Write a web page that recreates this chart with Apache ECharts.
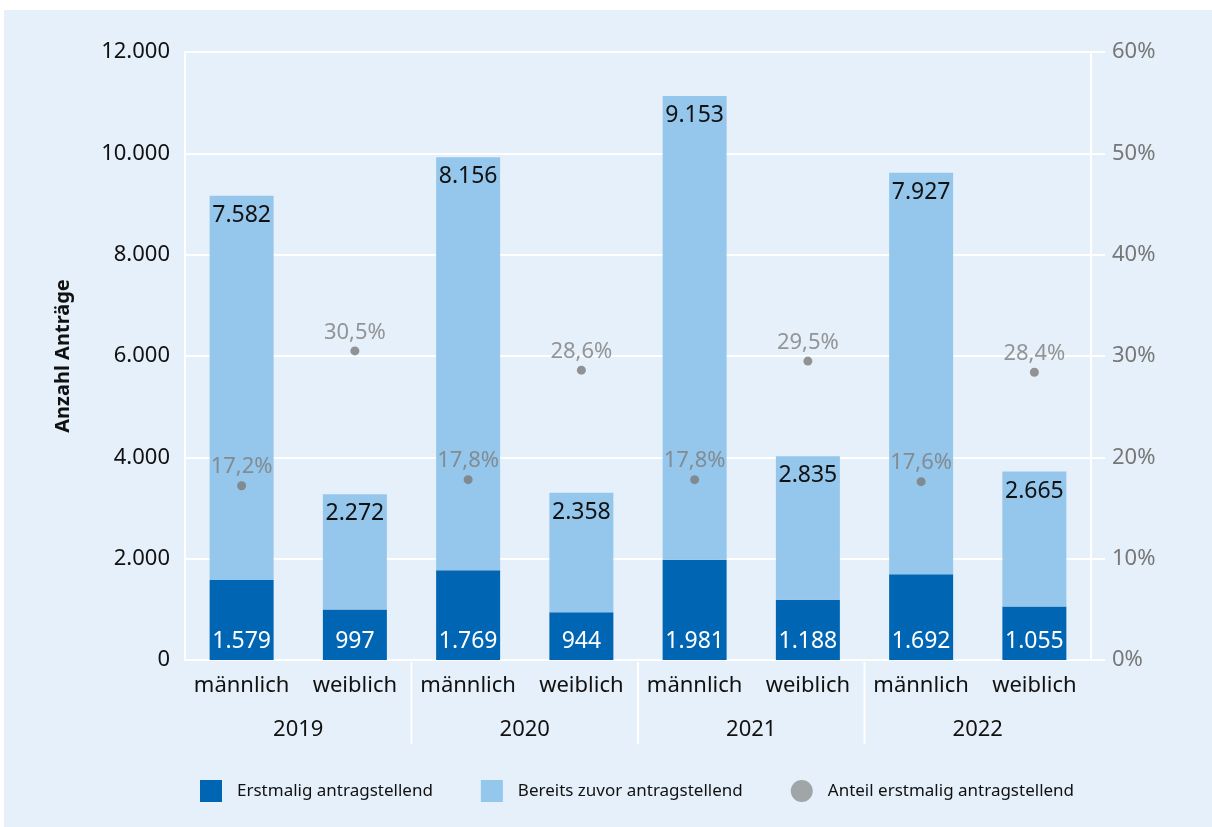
<!DOCTYPE html>
<html>
<head>
<meta charset="utf-8">
<script src="https://cdn.jsdelivr.net/npm/echarts@6/dist/echarts.min.js"></script>
<style>
html,body{margin:0;padding:0;background:#ffffff;}
#chart{position:absolute;left:4px;top:10px;width:1208px;height:817px;background:#e6f0fa;}
</style>
</head>
<body>
<div id="chart"></div>
<script>
const years = ['2019', '2020', '2021', '2022'];
const sexes = ['männlich', 'weiblich', 'männlich', 'weiblich', 'männlich', 'weiblich', 'männlich', 'weiblich'];
const firstTime = [1579, 997, 1769, 944, 1981, 1188, 1692, 1055];
const previously = [7582, 2272, 8156, 2358, 9153, 2835, 7927, 2665];
const shareFirst = [17.2, 30.5, 17.8, 28.6, 17.8, 29.5, 17.6, 28.4];
const leftTicks = { min: 0, max: 12000, interval: 2000 };
const rightTicks = { min: 0, max: 60, interval: 10 };
const seriesNames = ['Erstmalig antragstellend', 'Bereits zuvor antragstellend', 'Anteil erstmalig antragstellend'];

const FONT = 'Noto Sans';
const fmtThousands = v => String(v).replace(/\B(?=(\d{3})+(?!\d))/g, '.');
const groupSize = sexes.length / years.length;
const separators = [];
for (let i = 1; i < years.length; i++) separators.push([i * groupSize, 0]);

const chart = echarts.init(document.getElementById('chart'));
chart.setOption({
  animation: false,
  textStyle: { fontFamily: FONT },
  grid: { left: 181, right: 121, top: 42, bottom: 167 },
  legend: {
    left: 191, top: 765,
    itemWidth: 22, itemHeight: 22, itemGap: 48,
    textStyle: { fontFamily: FONT, fontSize: 17, color: '#111', padding: [0, 0, 0, 10] },
    data: [
      { name: seriesNames[0], icon: 'rect' },
      { name: seriesNames[1], icon: 'rect' },
      { name: seriesNames[2], icon: 'circle', itemStyle: { color: '#8e9294' } }
    ]
  },
  xAxis: [
    {
      type: 'category', data: sexes, position: 'bottom',
      axisLine: { show: true, lineStyle: { color: '#ffffff', width: 2 } },
      axisTick: { show: false },
      axisLabel: { interval: 0, color: '#111', fontSize: 22, margin: 15, fontFamily: FONT }
    },
    {
      type: 'category', data: years, position: 'bottom', offset: 0,
      axisLine: { show: false }, axisTick: { show: false },
      axisLabel: { interval: 0, color: '#111', fontSize: 22, margin: 59, fontFamily: FONT }
    }
  ],
  yAxis: [
    {
      type: 'value', min: leftTicks.min, max: leftTicks.max, interval: leftTicks.interval,
      name: 'Anzahl Anträge', nameLocation: 'middle', nameGap: 112, nameRotate: 90,
      nameTextStyle: { fontWeight: 'bold', fontSize: 20, color: '#111', fontFamily: FONT },
      axisLine: { show: true, lineStyle: { color: '#ffffff', width: 2 } },
      axisTick: { show: false },
      splitLine: { show: true, lineStyle: { color: '#ffffff', width: 2 } },
      axisLabel: { color: '#111', fontSize: 22, margin: 15, formatter: fmtThousands, fontFamily: FONT }
    },
    {
      type: 'value', min: rightTicks.min, max: rightTicks.max, interval: rightTicks.interval, position: 'right',
      axisLine: { show: true, lineStyle: { color: '#ffffff', width: 2 } },
      axisTick: { show: true, length: 14, lineStyle: { color: '#ffffff', width: 2 } },
      splitLine: { show: false },
      axisLabel: { color: '#777777', fontSize: 22, margin: 21, formatter: '{value}%', fontFamily: FONT }
    }
  ],
  series: [
    {
      name: seriesNames[0], type: 'bar', stack: 'a', barWidth: 64,
      itemStyle: { color: '#0066b3' },
      label: { show: true, position: 'insideBottom', distance: 7, color: '#ffffff', fontSize: 23, fontFamily: FONT, formatter: p => fmtThousands(p.value) },
      data: firstTime
    },
    {
      name: seriesNames[1], type: 'bar', stack: 'a', barWidth: 64,
      itemStyle: { color: '#95c6eb' },
      label: { show: true, position: 'insideTop', distance: 8, color: '#111111', fontSize: 23, fontFamily: FONT, formatter: p => fmtThousands(p.value) },
      data: previously
    },
    {
      name: seriesNames[2], type: 'scatter', yAxisIndex: 1, symbol: 'circle', symbolSize: 9,
      itemStyle: { color: '#7a7a7a' },
      label: { show: true, position: 'top', distance: 3, color: '#7d7d7d', fontSize: 22, fontFamily: FONT, formatter: p => p.value.toFixed(1).replace('.', ',') + '%' },
      data: shareFirst, z: 5
    },
    {
      type: 'custom', xAxisIndex: 0, yAxisIndex: 0, silent: true, clip: false,
      renderItem: function (params, api) {
        const p = api.coord([api.value(0), 0]);
        const w = api.size([1, 0])[0];
        const x = p[0] - w / 2;
        return { type: 'line', shape: { x1: x, y1: p[1] + 2, x2: x, y2: p[1] + 84 }, style: { stroke: '#ffffff', lineWidth: 2 } };
      },
      data: separators, z: 1
    }
  ]
});
</script>
</body>
</html>
